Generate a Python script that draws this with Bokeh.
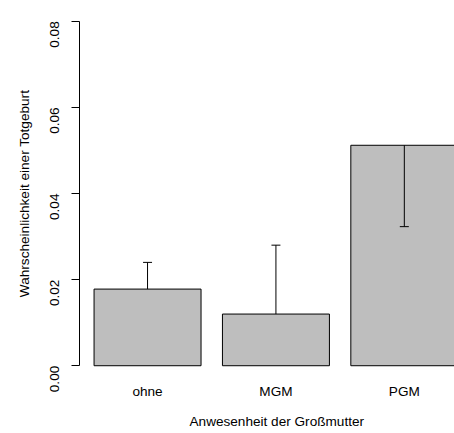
from bokeh.plotting import figure
from bokeh.models import Range1d, FixedTicker, PrintfTickFormatter, Title
from bokeh.embed import file_html
from bokeh.resources import INLINE

# Stillbirth probability by grandmother presence
categories = ["ohne", "MGM", "PGM"]
probability = [0.0178, 0.0120, 0.0512]
ci_end = [0.0240, 0.0280, 0.0323]
y_ticks = [0.00, 0.02, 0.04, 0.06, 0.08]

# barplot-style positions: width 1, spacing 0.2
bar_width = 1.0
space = 0.2
centers = [round(space + bar_width / 2 + i * (bar_width + space), 6) for i in range(len(categories))]
cap = 0.042

FONT = "Liberation Sans"
FS = "13.6px"

p = figure(frame_width=375, frame_height=372, output_backend="svg", toolbar_location=None,
           x_range=Range1d(0.064, 3.569), y_range=Range1d(-0.0032, 0.0832),
           min_border_left=79, min_border_right=0, min_border_top=7, min_border_bottom=54)
p.outline_line_color = None
p.xgrid.visible = False
p.ygrid.visible = False
p.background_fill_color = "white"
p.border_fill_color = "white"

p.vbar(x=centers, top=probability, bottom=0, width=bar_width,
       fill_color="#BEBEBE", line_color="black", line_width=1)

# one-sided interval whiskers with caps
p.segment(x0=centers, y0=probability, x1=centers, y1=ci_end, line_color="black", line_width=1)
p.segment(x0=[c - cap for c in centers], y0=ci_end, x1=[c + cap for c in centers], y1=ci_end,
          line_color="black", line_width=1)

# y axis
ya = p.yaxis[0]
ya.bounds = (0, 0.08)
ya.ticker = FixedTicker(ticks=y_ticks)
ya.formatter = PrintfTickFormatter(format="%.2f")
ya.minor_tick_line_color = None
ya.major_tick_out = 8
ya.major_tick_in = 0
ya.major_label_orientation = 3.14159265 / 2
ya.major_label_standoff = 17
ya.major_label_text_font = FONT
ya.major_label_text_font_size = FS
ya.major_label_text_color = "black"
ya.axis_line_color = "black"
ya.major_tick_line_color = "black"
ya.axis_label = "Wahrscheinlichkeit einer Totgeburt"
ya.axis_label_text_font = FONT
ya.axis_label_text_font_size = FS
ya.axis_label_text_font_style = "normal"
ya.axis_label_text_color = "black"
ya.axis_label_standoff = 11

# x axis: category names only
xa = p.xaxis[0]
xa.ticker = FixedTicker(ticks=centers)
xa.major_label_overrides = {c: name for c, name in zip(centers, categories)}
xa.axis_line_color = None
xa.major_tick_line_color = None
xa.minor_tick_line_color = None
xa.major_tick_out = 0
xa.major_tick_in = 0
xa.major_label_standoff = 4
xa.major_label_text_font = FONT
xa.major_label_text_font_size = FS
xa.major_label_text_color = "black"

# x title, placed under the centre of the whole bar region
p.add_layout(Title(text="Anwesenheit der Großmutter", align="left", offset=110, standoff=21,
                   text_font=FONT, text_font_size=FS, text_font_style="normal",
                   text_color="black"), "below")

open("out.html", "w").write(file_html(p, INLINE))
